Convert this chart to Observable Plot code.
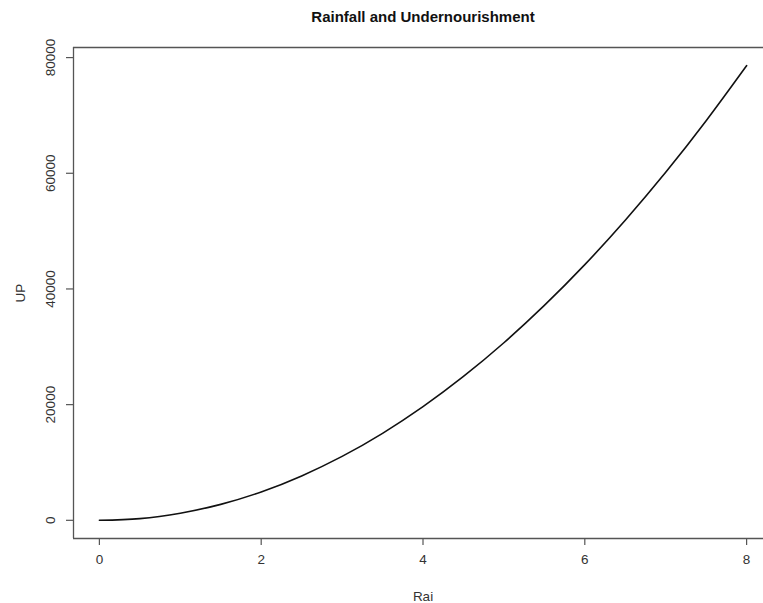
<!DOCTYPE html>
<html>
<head>
<meta charset="utf-8">
<script src="https://cdn.jsdelivr.net/npm/d3@7"></script>
<script src="https://cdn.jsdelivr.net/npm/@observablehq/plot@0.6"></script>
<style>
  html, body { margin: 0; padding: 0; background: #fff; overflow: hidden; }
  #chart svg { overflow: hidden; }
</style>
</head>
<body>
<div id="chart"></div>
<script>
// Values
const rai = [0, 0.5, 1, 1.5, 2, 2.5, 3, 3.5, 4, 4.5, 5, 5.5, 6, 6.5, 7, 7.5, 8];
const up  = [0, 300, 1230, 2760, 4900, 7680, 11050, 15040, 19650, 24870, 30700, 37150, 44200, 51880, 60170, 69080, 78600];
const xTicks = [0, 2, 4, 6, 8];
const yTicks = [0, 20000, 40000, 60000, 80000];
const title = "Rainfall and Undernourishment";
const xLabel = "Rai";
const yLabel = "UP";

const data = rai.map((r, i) => ({rai: r, up: up[i]}));

// R-style 4% axis extension
const xPad = (d3.max(rai) - d3.min(rai)) * 0.04;
const yPad = (d3.max(up) - d3.min(up)) * 0.04;
const xDom = [d3.min(rai) - xPad, d3.max(rai) + xPad];
const yDom = [d3.min(up) - yPad, d3.max(up) + yPad];

const font = "Liberation Sans, Arial, Helvetica, sans-serif";
const axisCol = "#555";
const textCol = "#333";

const chart = Plot.plot({
  width: 763,
  height: 603,
  marginLeft: 73,
  marginRight: -9,
  marginTop: 47,
  marginBottom: 65,
  style: {fontFamily: font, background: "#fff"},
  x: {type: "linear", domain: xDom, axis: null},
  y: {type: "linear", domain: yDom, axis: null},
  marks: [
    // box: top, bottom, left, right
    Plot.ruleY([yDom[1]], {stroke: axisCol, strokeWidth: 1.3}),
    Plot.ruleY([yDom[0]], {stroke: axisCol, strokeWidth: 1.3}),
    Plot.ruleX([xDom[0]], {stroke: axisCol, strokeWidth: 1.3}),
    Plot.ruleX([xDom[1]], {stroke: axisCol, strokeWidth: 1.3}),
    // x axis
    Plot.axisX(xTicks, {anchor: "bottom", tickSize: 7, tickPadding: 9, fontSize: 13.5, color: textCol, stroke: axisCol, strokeWidth: 1.2, label: null, tickFormat: d3.format("d")}),
    // y axis ticks (labels rotated like R)
    Plot.axisY(yTicks, {anchor: "left", tickSize: 7, stroke: axisCol, strokeWidth: 1.2, label: null, tickFormat: () => ""}),
    Plot.text(yTicks, {y: d => d, text: d => String(d), frameAnchor: "left", dx: -23, rotate: -90, textAnchor: "middle", lineAnchor: "middle", fontSize: 13.5, fill: textCol}),
    // curve
    Plot.line(data, {x: "rai", y: "up", stroke: "#111", strokeWidth: 1.6, curve: "natural"}),
    // titles
    Plot.text([title], {frameAnchor: "top", dy: -30, text: d => d, fontWeight: "bold", fontSize: 15, fill: "#111", lineAnchor: "middle"}),
    Plot.text([xLabel], {frameAnchor: "bottom", dy: 58, text: d => d, fontSize: 13.5, fill: textCol, lineAnchor: "middle"}),
    Plot.text([yLabel], {frameAnchor: "left", dx: -53, rotate: -90, text: d => d, fontSize: 13.5, fill: textCol, textAnchor: "middle", lineAnchor: "middle"})
  ]
});
document.getElementById("chart").appendChild(chart);
</script>
</body>
</html>
